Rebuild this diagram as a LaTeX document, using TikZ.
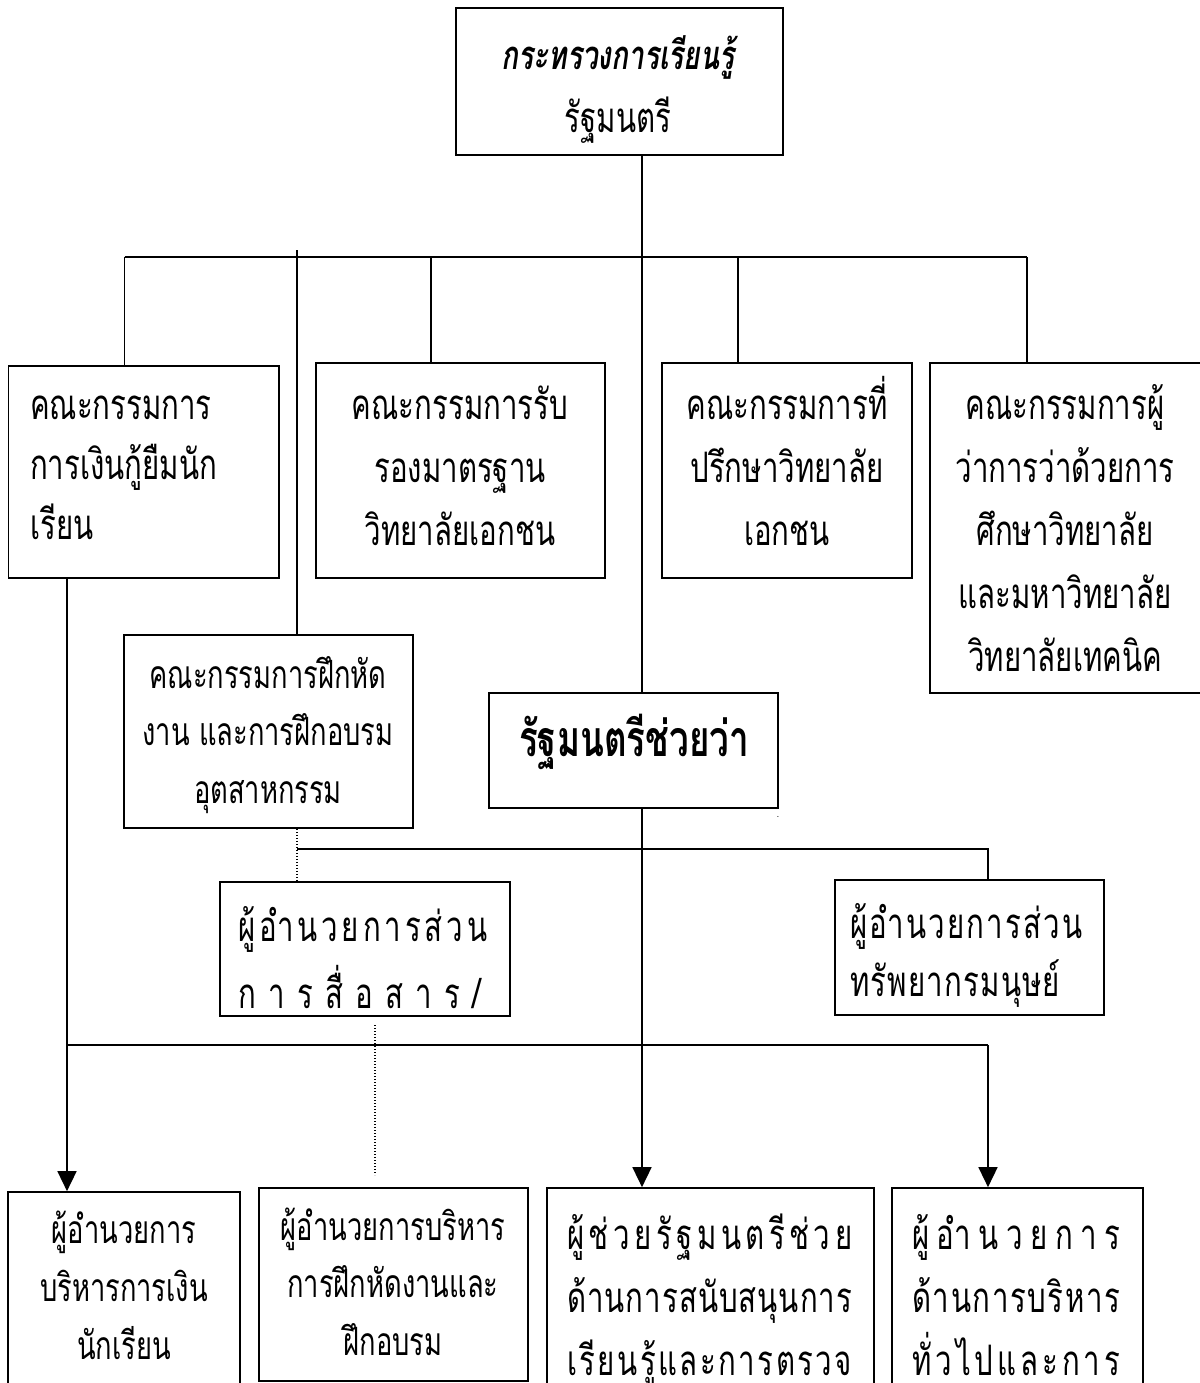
\documentclass[tikz,border=0pt]{standalone}
\usepackage{fontspec}
\newfontfamily\thai[Script=Thai,FakeStretch=0.70]{Loma}
\usetikzlibrary{arrows.meta,fit}
\newcommand\spr[2]{\hbox to #1pt{#2}}
\newcommand\ls{\rule[-15pt]{0pt}{65pt}}
\newcommand\fz[2]{\thai\fontsize{#1}{#2}\selectfont\lineskiplimit=-200pt\relax}
\begin{document}
\begin{tikzpicture}[x=1pt,y=-1pt,
  box/.style={draw, line width=1.7pt, inner sep=0pt},
  txt/.style={font=\fz{42}{63}, inner sep=0pt, align=center, anchor=north},
  txtl/.style={txt, align=left, anchor=north west},
  small/.style={font=\fz{39}{57.5}},
  conn/.style={line width=1.6pt},
  arr/.style={line width=1.6pt, -{Triangle[length=20pt,width=19pt]}},
  dots/.style={line width=1.3pt, dash pattern=on 1.4pt off 1.6pt}]
\useasboundingbox (0,0) rectangle (1199,1383);
% boxes
\node[box, fit={(456,8)(783,155)}] (top) {};
\node[box, fit={(8.5,366)(279,578)}] (b1) {};
\node[box, fit={(316,363)(605,578)}] (b2) {};
\node[box, fit={(662,363)(912,578)}] (b3) {};
\node[box, fit={(930,363)(1215,693)}] (b4) {};
\node[box, fit={(124,635)(413,828)}] (b5) {};
\node[box, fit={(489,693)(778,808)}] (b6) {};
\node[box, fit={(220,882)(510,1016)}] (b8) {};
\node[box, fit={(835,880)(1104,1015)}] (b9) {};
\node[box, fit={(8,1192)(240,1410)}] (b10) {};
\node[box, fit={(259,1188)(528,1381)}] (b11) {};
\node[box, fit={(547,1188)(874,1410)}] (b12) {};
\node[box, fit={(892,1188)(1143,1410)}] (b13) {};
% texts
\node[txt] (ttop) at (618,19) {\ls{\fontsize{40}{63}\selectfont\bfseries\itshape กระทรวงการเรียนรู้}\\\ls รัฐมนตรี};
\node[txtl, font=\fz{42}{60}] (t1) at (30,369) {\ls คณะกรรมการ\\\ls การเงินกู้ยืมนัก\\\ls เรียน};
\node[txt] (t2) at (460,369) {\ls คณะกรรมการรับ\\\ls รองมาตรฐาน\\\ls วิทยาลัยเอกชน};
\node[txt] (t3) at (787,369) {\ls คณะกรรมการที่\\\ls ปรึกษาวิทยาลัย\\\ls เอกชน};
\node[txt] (t4) at (1065,369) {\ls คณะกรรมการผู้\\\ls ว่าการว่าด้วยการ\\\ls ศึกษาวิทยาลัย\\\ls และมหาวิทยาลัย\\\ls วิทยาลัยเทคนิค};
\node[txt, small] (t5) at (268,638) {\ls คณะกรรมการฝึกหัด\\\ls งาน และการฝึกอบรม\\\ls อุตสาหกรรม};
\node[inner sep=0pt, anchor=base, font=\thai\bfseries\fontsize{50}{60}\selectfont] (t6) at (634,756) {รัฐมนตรีช่วยว่า};
\node[inner sep=0pt, font=\fontsize{10}{12}\selectfont] (dot) at (778,817) {.};
\node[txtl, font=\fz{42}{67}] (t8) at (238,891) {\ls\spr{249}{ผู้\hfil อำ\hfil น\hfil ว\hfil ย\hfil ก\hfil า\hfil ร\hfil ส่\hfil ว\hfil น}\\\ls\spr{243}{ก\hfil า\hfil ร\hfil สื่\hfil อ\hfil ส\hfil า\hfil ร\hfil /}};
\node[txtl, font=\fz{42}{58}] (t9) at (850,888) {\ls\spr{232}{ผู้\hfil อำ\hfil น\hfil ว\hfil ย\hfil ก\hfil า\hfil ร\hfil ส่\hfil ว\hfil น}\\\ls\spr{210}{ท\hfil รั\hfil พ\hfil ย\hfil า\hfil ก\hfil ร\hfil ม\hfil นุ\hfil ษ\hfil ย์}};
\node[txt, font=\fz{39}{58}] (t10) at (124,1193) {\ls ผู้อำนวยการ\\\ls บริหารการเงิน\\\ls นักเรียน};
\node[txt, small] (t11) at (393,1190) {\ls ผู้อำนวยการบริหาร\\\ls การฝึกหัดงานและ\\\ls ฝึกอบรม};
\node[txtl] (t12) at (567,1199) {\ls\spr{285}{ผู้\hfil ช่\hfil ว\hfil ย\hfil รั\hfil ฐ\hfil ม\hfil น\hfil ต\hfil รี\hfil ช่\hfil ว\hfil ย}\\\ls\spr{285}{ด้\hfil า\hfil น\hfil ก\hfil า\hfil ร\hfil ส\hfil นั\hfil บ\hfil ส\hfil นุ\hfil น\hfil ก\hfil า\hfil ร}\\\ls\spr{285}{เ\hfil รี\hfil ย\hfil น\hfil รู้\hfil แ\hfil ล\hfil ะ\hfil ก\hfil า\hfil ร\hfil ต\hfil ร\hfil ว\hfil จ}};
\node[txtl] (t13) at (912,1199) {\ls\spr{208}{ผู้\hfil อำ\hfil น\hfil ว\hfil ย\hfil ก\hfil า\hfil ร}\\\ls\spr{208}{ด้\hfil า\hfil น\hfil ก\hfil า\hfil ร\hfil บ\hfil ริ\hfil ห\hfil า\hfil ร}\\\ls\spr{208}{ทั่\hfil ว\hfil ไ\hfil ป\hfil แ\hfil ล\hfil ะ\hfil ก\hfil า\hfil ร}};
% connector coordinates
\coordinate (bus) at (642,257);
\coordinate (d1) at (124.5,257);
\coordinate (d2) at (431,257);
\coordinate (d3) at (738,257);
\coordinate (d4) at (1027,257);
\coordinate (d5) at (297,250);
\coordinate (h1) at (297,849);
\coordinate (h2) at (988,849);
\coordinate (g1) at (67,1045);
\coordinate (g2) at (988,1045);
\coordinate (q1) at (375,1025);
\coordinate (q2) at (375,1175);
% connectors
\draw[conn] (top.south -| bus) -- (bus);
\draw[conn] (d1) -- (d4);
\draw[conn] (d1) -- (d1 |- b1.north);
\draw[conn] (d2) -- (d2 |- b2.north);
\draw[conn] (d3) -- (d3 |- b3.north);
\draw[conn] (d4) -- (d4 |- b4.north);
\draw[conn] (d5) -- (d5 |- b5.north);
\draw[conn] (bus) -- (bus |- b6.north);
\draw[arr] (bus |- b6.south) -- (bus |- b12.north);
\draw[dots] (h1 |- b5.south) -- (h1 |- b8.north);
\draw[conn] (h1) -- (h2) -- (h2 |- b9.north);
\draw[arr] (g1 |- b1.south) -- (g1 |- b10.north);
\draw[conn] (g1) -- (g2);
\draw[arr] (g2) -- (g2 |- b13.north);
\draw[dots] (q1) -- (q2);
\end{tikzpicture}
\end{document}
